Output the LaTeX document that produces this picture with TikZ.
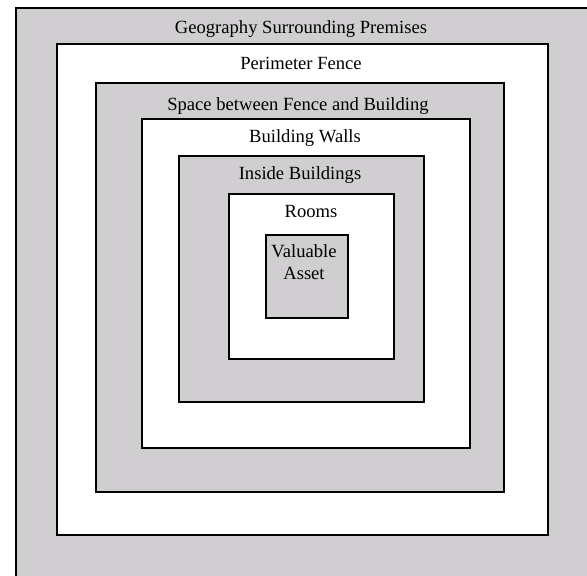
\documentclass[tikz,border=0pt]{standalone}
\usepackage{fontspec}
\setmainfont{Liberation Serif}
\usepackage{tikz}
\usetikzlibrary{positioning}
\definecolor{zonegrey}{RGB}{208,206,208}

\begin{document}
\begin{tikzpicture}[x=1pt,y=-1pt]
 \tikzstyle{zone}     = [draw=black,line width=2.4pt,inner sep=0pt,anchor=north west];
 \tikzstyle{zoneG}    = [zone,fill=zonegrey];
 \tikzstyle{zoneW}    = [zone,fill=white];
 \tikzstyle{zonetext} = [anchor=base,inner sep=0pt,font=\fontsize{18.6}{22}\selectfont];

 \clip (0,0) rectangle (587,576);

 %% nested zones, outside in
 \node[zoneG,minimum width=600pt,minimum height=600pt,name=geo]      at (15,7)   {};
 \node[zoneW,minimum width=491pt,minimum height=491pt,name=fence]    at (56,43)  {};
 \node[zoneG,minimum width=408pt,minimum height=409pt,name=space]    at (95,82)  {};
 \node[zoneW,minimum width=328pt,minimum height=329pt,name=walls]    at (141,118) {};
 \node[zoneG,minimum width=245pt,minimum height=246pt,name=inside]   at (178,155) {};
 \node[zoneW,minimum width=165pt,minimum height=165pt,name=rooms]    at (228,193) {};
 \node[zoneG,minimum width=82pt,minimum height=83pt,name=asset]      at (265,234) {};

 %% zone labels
 \node[zonetext,name=geoText]    at (301,33)  {Geography Surrounding Premises};
 \node[zonetext,name=fenceText]  at (301,69)  {Perimeter Fence};
 \node[zonetext,name=spaceText]  at (298,110) {Space between Fence and Building};
 \node[zonetext,name=wallsText]  at (305,142) {Building Walls};
 \node[zonetext,name=insideText] at (300,179) {Inside Buildings};
 \node[zonetext,name=roomsText]  at (311,217) {Rooms};
 \node[zonetext,name=assetText]  at (304,257) {Valuable};
 \node[zonetext,name=assetText2] at (304,279) {Asset};

\end{tikzpicture}
\end{document}
